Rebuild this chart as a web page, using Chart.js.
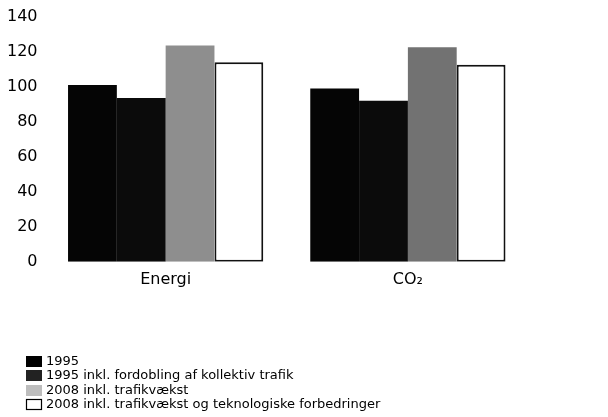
<!DOCTYPE html>
<html>
<head>
<meta charset="utf-8">
<script src="https://cdn.jsdelivr.net/npm/chart.js@4/dist/chart.umd.min.js"></script>
<style>
  html, body { margin: 0; padding: 0; background: #fff; }
  #wrap { width: 608px; height: 417px; position: relative; }
</style>
</head>
<body>
<div id="wrap"><canvas id="grafico"></canvas></div>
<script>
// Data (index values)
const kategorier = ["Energi", "CO₂"];
const serie1995 = [101, 99];
const serie1995Kollektiv = [93.5, 92];
const serie2008Trafik = [123.5, 122.5];
const serie2008Teknologi = [114, 112.5];
const yTicks = [0, 20, 40, 60, 80, 100, 120, 140];

const serieNavne = [
    "1995",
    "1995 inkl. fordobling af kollektiv trafik",
    "2008 inkl. trafikvækst",
    "2008 inkl. trafikvækst og teknologiske forbedringer"
];

// Legend boxes drawn as a simple list under the chart
const legendListe = {
    id: "legendListe",
    afterDraw(chart) {
        const ctx = chart.ctx;
        const rows = [361, 375, 390, 404];
        ctx.save();
        ctx.font = "13px 'DejaVu Sans'";
        ctx.textBaseline = "middle";
        chart.data.datasets.forEach((ds, i) => {
            const y = rows[i];
            ctx.fillStyle = ds.legendColor;
            ctx.fillRect(26, y - 5, 16, 11);
            if (ds.legendBorder) {
                ctx.strokeStyle = "#000";
                ctx.lineWidth = 1.2;
                ctx.strokeRect(26.5, y - 4.5, 15, 10);
            }
            ctx.fillStyle = "#000";
            ctx.fillText(ds.label, 46, y + 1);
        });
        ctx.restore();
    }
};

const ctx = document.getElementById("grafico").getContext("2d");
new Chart(ctx, {
    type: "bar",
    data: {
        labels: kategorier,
        datasets: [
            {
                label: serieNavne[0],
                data: serie1995,
                backgroundColor: "#050505",
                legendColor: "#000"
            },
            {
                label: serieNavne[1],
                data: serie1995Kollektiv,
                backgroundColor: "#0b0b0b",
                legendColor: "#222"
            },
            {
                label: serieNavne[2],
                data: serie2008Trafik,
                backgroundColor: ["#8e8e8e", "#727272"],
                legendColor: "#bdbdbd"
            },
            {
                label: serieNavne[3],
                data: serie2008Teknologi,
                backgroundColor: "#ffffff",
                borderColor: "#111",
                borderWidth: 2,
                borderSkipped: false,
                legendColor: "#fff",
                legendBorder: true
            }
        ]
    },
    options: {
        responsive: true,
        maintainAspectRatio: false,
        animation: false,
        layout: { padding: { top: 13, left: 0, right: 79, bottom: 120 } },
        datasets: { bar: { barPercentage: 1.0, categoryPercentage: 0.806 } },
        plugins: {
            legend: { display: false },
            tooltip: { enabled: false }
        },
        scales: {
            x: {
                grid: { display: false, drawTicks: false },
                border: { display: false },
                ticks: {
                    color: "#000",
                    padding: 8,
                    font: { family: "'DejaVu Sans'", size: 16 }
                }
            },
            y: {
                min: 0,
                max: 140,
                afterBuildTicks: (axis) => { axis.ticks = yTicks.map(v => ({ value: v })); },
                grid: { display: false, drawTicks: false },
                border: { display: false },
                ticks: {
                    color: "#000",
                    padding: 7,
                    font: { family: "'DejaVu Sans'", size: 16 }
                }
            }
        }
    },
    plugins: [legendListe]
});
</script>
</body>
</html>
